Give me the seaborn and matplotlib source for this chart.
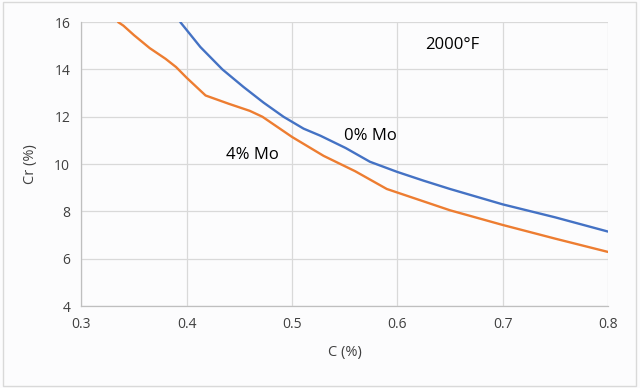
import matplotlib
matplotlib.use("Agg")
import matplotlib.pyplot as plt
import pandas as pd
import seaborn as sns
from matplotlib.patches import Rectangle

# carbon (%) vs chromium (%) at 2000°F
c_0mo = [0.394, 0.413, 0.434, 0.454, 0.473, 0.492, 0.511, 0.527, 0.551,
         0.574, 0.60, 0.625, 0.65, 0.70, 0.75, 0.80]
cr_0mo = [16.0, 14.95, 14.0, 13.26, 12.6, 12.0, 11.5, 11.2, 10.68,
          10.1, 9.67, 9.3, 8.95, 8.3, 7.75, 7.15]

c_4mo = [0.335, 0.34, 0.35, 0.365, 0.38, 0.39, 0.40, 0.418, 0.44, 0.46,
         0.472, 0.50, 0.53, 0.56, 0.59, 0.62, 0.65, 0.70, 0.75, 0.80]
cr_4mo = [16.0, 15.85, 15.45, 14.9, 14.45, 14.1, 13.65, 12.9, 12.55, 12.25,
          12.0, 11.15, 10.35, 9.7, 8.95, 8.5, 8.05, 7.43, 6.85, 6.29]

x_ticks = [0.3, 0.4, 0.5, 0.6, 0.7, 0.8]
y_ticks = [4, 6, 8, 10, 12, 14, 16]

df = pd.concat([
    pd.DataFrame({"C": c_0mo, "Cr": cr_0mo, "Mo": "0% Mo"}),
    pd.DataFrame({"C": c_4mo, "Cr": cr_4mo, "Mo": "4% Mo"}),
])

sns.set_theme(style="whitegrid")
plt.rcParams["font.family"] = ["Open Sans", "DejaVu Sans"]

bg = "#fcfcfd"
fig = plt.figure(figsize=(6.4, 3.88), dpi=100, facecolor=bg)
ax = fig.add_axes([0.127, 0.211, 0.823, 0.732])
ax.set_facecolor(bg)

sns.lineplot(data=df, x="C", y="Cr", hue="Mo", sort=False, estimator=None,
             palette={"0% Mo": "#4472C4", "4% Mo": "#ED7D31"},
             linewidth=1.7, legend=False, ax=ax)

ax.set_xlim(0.3, 0.8)
ax.set_ylim(4, 16)
ax.set_xticks(x_ticks)
ax.set_yticks(y_ticks)
ax.set_xticklabels([f"{v:g}" for v in x_ticks])
ax.grid(True, color="#d9d9d9", linewidth=0.9)
for side in ["top", "right"]:
    ax.spines[side].set_visible(False)
for side in ["left", "bottom"]:
    ax.spines[side].set_color("#bfbfbf")
    ax.spines[side].set_linewidth(0.9)
ax.tick_params(axis="both", length=0, labelsize=10, colors="#404040", pad=8)

ax.set_xlabel("C (%)", fontsize=10.5, color="#404040", labelpad=9)
ax.set_ylabel("Cr (%)", fontsize=10.5, color="#404040", labelpad=12)

ax.text(0.652, 15.03, "2000°F", fontsize=12, color="black", ha="center", va="center")
ax.text(0.574, 11.2, "0% Mo", fontsize=12, color="black", ha="center", va="center")
ax.text(0.462, 10.4, "4% Mo", fontsize=12, color="black", ha="center", va="center")

fig.patches.append(Rectangle((0.004, 0.006), 0.99, 0.99, transform=fig.transFigure,
                             fill=False, edgecolor="#d9d9d9", linewidth=1))

fig.savefig("out.png", dpi=100, facecolor=bg)
